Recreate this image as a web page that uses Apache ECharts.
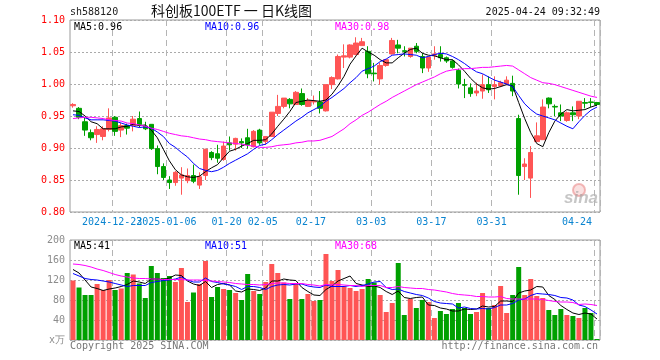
<!DOCTYPE html>
<html><head><meta charset="utf-8">
<script src="https://cdn.jsdelivr.net/npm/echarts@6/dist/echarts.min.js"></script>
<style>html,body{margin:0;padding:0;background:#fff}#c{width:660px;height:360px}</style>
</head><body><div id="c"></div>
<script>
const dates = ['2024-12-12','2024-12-13','2024-12-16','2024-12-17','2024-12-18','2024-12-19','2024-12-20','2024-12-23','2024-12-24','2024-12-25','2024-12-26','2024-12-27','2024-12-30','2024-12-31','2025-01-02','2025-01-03','2025-01-06','2025-01-07','2025-01-08','2025-01-09','2025-01-10','2025-01-13','2025-01-14','2025-01-15','2025-01-16','2025-01-17','2025-01-20','2025-01-21','2025-01-22','2025-01-23','2025-01-24','2025-01-27','2025-02-05','2025-02-06','2025-02-07','2025-02-10','2025-02-11','2025-02-12','2025-02-13','2025-02-14','2025-02-17','2025-02-18','2025-02-19','2025-02-20','2025-02-21','2025-02-24','2025-02-25','2025-02-26','2025-02-27','2025-02-28','2025-03-03','2025-03-04','2025-03-05','2025-03-06','2025-03-07','2025-03-10','2025-03-11','2025-03-12','2025-03-13','2025-03-14','2025-03-17','2025-03-18','2025-03-19','2025-03-20','2025-03-21','2025-03-24','2025-03-25','2025-03-26','2025-03-27','2025-03-28','2025-03-31','2025-04-01','2025-04-02','2025-04-03','2025-04-07','2025-04-08','2025-04-09','2025-04-10','2025-04-11','2025-04-14','2025-04-15','2025-04-16','2025-04-17','2025-04-18','2025-04-21','2025-04-22','2025-04-23','2025-04-24'];

const opens = [0.966,0.962,0.941,0.924,0.921,0.918,0.929,0.948,0.928,0.935,0.935,0.946,0.934,0.937,0.899,0.871,0.850,0.846,0.853,0.849,0.857,0.842,0.857,0.893,0.891,0.882,0.908,0.906,0.910,0.916,0.902,0.928,0.910,0.918,0.954,0.965,0.976,0.968,0.985,0.965,0.972,0.972,0.958,0.999,1.008,1.042,1.042,1.046,1.060,1.051,1.017,1.008,1.029,1.047,1.061,1.052,1.043,1.059,1.043,1.025,1.045,1.046,1.041,1.036,1.021,0.999,0.994,0.986,0.989,0.999,0.996,0.997,1.000,1.001,0.946,0.871,0.853,0.910,0.913,0.978,0.965,0.955,0.943,0.955,0.950,0.971,0.972,0.971];
const closes = [0.968,0.948,0.928,0.916,0.929,0.930,0.947,0.926,0.935,0.931,0.945,0.937,0.930,0.899,0.871,0.854,0.846,0.862,0.858,0.857,0.848,0.855,0.898,0.885,0.884,0.903,0.905,0.915,0.908,0.905,0.926,0.908,0.918,0.956,0.965,0.978,0.969,0.987,0.968,0.974,0.973,0.962,0.999,1.010,1.043,1.044,1.061,1.064,1.066,1.016,1.016,1.029,1.038,1.068,1.056,1.051,1.056,1.051,1.025,1.042,1.047,1.041,1.036,1.026,1.000,0.998,0.985,0.989,0.999,0.991,0.999,1.002,1.006,0.989,0.857,0.875,0.893,0.919,0.964,0.969,0.964,0.950,0.955,0.952,0.973,0.970,0.971,0.968];
const highs = [0.970,0.964,0.948,0.929,0.934,0.934,0.962,0.950,0.939,0.938,0.950,0.957,0.941,0.937,0.904,0.876,0.856,0.864,0.870,0.868,0.874,0.862,0.899,0.895,0.905,0.910,0.918,0.916,0.915,0.930,0.928,0.930,0.918,0.956,0.983,0.978,0.978,0.989,0.993,0.978,0.982,0.989,0.999,1.012,1.046,1.062,1.062,1.073,1.072,1.059,1.033,1.033,1.038,1.072,1.069,1.059,1.056,1.064,1.048,1.042,1.059,1.059,1.043,1.038,1.024,1.008,1.001,1.002,1.015,1.012,1.012,1.005,1.012,1.013,0.952,0.884,0.903,0.940,0.976,0.979,0.968,0.968,0.957,0.965,0.973,0.978,0.978,0.972];
const lows = [0.963,0.945,0.919,0.912,0.908,0.912,0.926,0.919,0.917,0.921,0.926,0.932,0.928,0.897,0.859,0.850,0.836,0.841,0.827,0.845,0.845,0.836,0.850,0.881,0.877,0.880,0.896,0.896,0.900,0.899,0.901,0.905,0.905,0.918,0.950,0.962,0.962,0.968,0.966,0.964,0.968,0.954,0.957,0.992,1.007,1.025,1.040,1.045,1.060,1.009,1.004,0.999,1.027,1.046,1.048,1.043,1.041,1.048,1.017,1.019,1.038,1.035,1.033,1.024,0.993,0.978,0.980,0.981,0.977,0.986,0.976,0.995,0.998,0.981,0.827,0.850,0.822,0.910,0.913,0.962,0.950,0.942,0.941,0.942,0.945,0.962,0.964,0.966];

const ma5 = [0.958,0.957,0.950,0.941,0.938,0.930,0.930,0.930,0.933,0.934,0.937,0.935,0.936,0.928,0.916,0.898,0.880,0.866,0.858,0.855,0.854,0.856,0.863,0.869,0.874,0.885,0.895,0.898,0.903,0.907,0.912,0.912,0.913,0.922,0.934,0.945,0.957,0.971,0.973,0.975,0.974,0.973,0.975,0.984,0.997,1.012,1.031,1.044,1.056,1.050,1.045,1.038,1.033,1.033,1.041,1.048,1.054,1.056,1.048,1.045,1.044,1.041,1.038,1.038,1.030,1.020,1.009,1.000,0.994,0.992,0.993,0.996,0.999,0.997,0.971,0.946,0.924,0.907,0.902,0.924,0.942,0.953,0.960,0.958,0.959,0.960,0.964,0.967];
const ma10 = [0.952,0.951,0.947,0.944,0.944,0.944,0.943,0.942,0.939,0.936,0.934,0.932,0.933,0.931,0.925,0.918,0.907,0.901,0.893,0.886,0.876,0.868,0.865,0.863,0.865,0.870,0.876,0.881,0.886,0.891,0.898,0.904,0.906,0.913,0.921,0.928,0.935,0.942,0.948,0.955,0.960,0.965,0.973,0.979,0.986,0.993,1.002,1.010,1.020,1.024,1.028,1.035,1.039,1.045,1.046,1.047,1.046,1.045,1.041,1.043,1.046,1.048,1.047,1.043,1.038,1.032,1.025,1.019,1.016,1.011,1.006,1.003,1.000,0.996,0.982,0.969,0.960,0.953,0.950,0.947,0.944,0.939,0.934,0.930,0.941,0.951,0.959,0.964];
const ma30 = [0.946,0.947,0.948,0.948,0.947,0.946,0.944,0.943,0.942,0.939,0.938,0.936,0.934,0.931,0.929,0.926,0.923,0.921,0.919,0.918,0.916,0.914,0.913,0.911,0.910,0.909,0.908,0.907,0.906,0.904,0.903,0.901,0.901,0.902,0.904,0.905,0.906,0.908,0.909,0.911,0.911,0.912,0.915,0.918,0.924,0.930,0.938,0.944,0.951,0.956,0.962,0.968,0.973,0.979,0.984,0.989,0.994,0.999,1.003,1.007,1.011,1.016,1.020,1.022,1.023,1.024,1.024,1.025,1.026,1.026,1.027,1.028,1.029,1.028,1.022,1.016,1.010,1.006,1.002,1.001,0.999,0.996,0.993,0.990,0.987,0.984,0.981,0.979];

const volumes = [119,105,90,90,112,100,120,100,103,134,131,113,84,148,134,124,128,116,144,76,95,112,158,86,106,102,100,94,80,132,98,92,116,152,134,115,82,114,82,92,78,80,172,118,140,107,104,98,102,122,115,90,56,74,154,50,82,64,80,76,44,58,52,62,74,64,52,56,94,64,70,108,54,90,146,90,122,88,84,60,50,62,50,48,44,64,54,2];
const vma5 = [141,134,120,106,103,99,102,104,107,111,118,116,113,122,122,121,124,130,129,118,112,109,117,105,111,113,110,98,96,102,101,99,104,118,118,122,120,119,105,97,90,89,101,108,118,123,128,113,110,107,108,105,97,91,98,85,83,85,86,70,69,64,62,58,58,62,61,62,68,66,67,78,78,77,94,98,100,107,106,89,81,69,61,54,51,54,52,42];
const vma10 = [133,128,123,121,120,118,116,113,110,107,109,109,109,115,117,119,120,122,126,120,116,116,124,117,115,112,110,107,101,107,107,105,101,107,110,111,110,112,112,108,106,105,110,107,107,107,109,107,109,112,116,117,105,101,102,97,94,91,89,84,77,74,73,72,64,66,63,62,63,62,65,70,70,73,80,82,89,93,92,91,89,85,84,80,70,67,60,52];
const vma30 = [152,151,149,146,142,139,135,131,128,126,124,123,123,122,122,121,121,121,121,120,120,120,119,118,117,116,115,113,112,111,111,110,111,113,114,114,113,113,113,111,110,108,111,110,111,110,109,109,107,109,109,109,105,105,107,105,104,103,103,101,100,98,96,93,91,90,89,87,87,86,86,87,83,82,82,82,82,82,81,79,77,76,76,75,71,72,71,69];

const tickDates = ['2024-12-23','2025-01-06','2025-01-20','2025-02-05','2025-02-17','2025-03-03','2025-03-17','2025-03-31','2025-04-24'];
const tickTexts = ['2024-12-23','2025-01-06','01-20','02-05','02-17','03-03','03-17','03-31','04-24'];
const priceTicks = [0.80, 0.85, 0.90, 0.95, 1.00, 1.05, 1.10];
const volTicks = [0, 40, 80, 120, 160, 200];

const RED = '#ff5555', GREEN = '#00a000';
const MONO = 'DejaVu Sans Mono';
const tickIdx = new Set(tickDates.map(d => dates.indexOf(d)));
const lastIdx = dates.length - 1;

const chart = echarts.init(document.getElementById('c'), null, {renderer: 'canvas'});

const baseX = (gi, showLabel) => ({
  type: 'category', gridIndex: gi, data: dates, boundaryGap: true,
  axisLine: {show: false}, axisTick: {show: false},
  axisLabel: showLabel ? {
    show: true, interval: 0, color: '#0a84d0', hideOverlap: false,
    fontFamily: MONO, fontSize: 10, margin: 5,
    formatter: (v, i) => {
      const k = tickDates.indexOf(v);
      if (k < 0) return '';
      return i === lastIdx ? '{l|' + tickTexts[k] + '}' : '{n|' + tickTexts[k] + '}';
    },
    rich: {
      n: {fontFamily: MONO, fontSize: 10, color: '#0a84d0', padding: [0, 6, 0, 0]},
      l: {fontFamily: MONO, fontSize: 10, color: '#0a84d0', padding: [0, 40, 0, 0]}
    }
  } : {show: false},
  splitLine: {show: true, interval: (i) => tickIdx.has(i), lineStyle: {color: '#b4b4b4', type: [6, 4], width: 1}}
});

chart.setOption({
  animation: false,
  backgroundColor: '#fff',
  grid: [
    {left: 70, top: 20, width: 530, height: 192, show: true, borderColor: '#9a9a9a', borderWidth: 1, backgroundColor: 'transparent'},
    {left: 70, top: 240, width: 530, height: 100, show: true, borderColor: '#9a9a9a', borderWidth: 1, backgroundColor: 'transparent'}
  ],
  xAxis: [baseX(0, true), baseX(1, false)],
  yAxis: [
    {type: 'value', gridIndex: 0, min: priceTicks[0], max: priceTicks[priceTicks.length - 1], interval: 0.05,
     axisLine: {show: false}, axisTick: {show: false},
     axisLabel: {color: '#ff0000', fontFamily: MONO, fontSize: 10, margin: 5, formatter: v => v.toFixed(2)},
     splitLine: {show: true, lineStyle: {color: '#aaaaaa', type: [2, 2], width: 1}}},
    {type: 'value', gridIndex: 1, min: volTicks[0], max: volTicks[volTicks.length - 1], interval: 40,
     axisLine: {show: false}, axisTick: {show: false},
     axisLabel: {color: '#8c8c8c', fontFamily: MONO, fontSize: 10, margin: 5, formatter: v => v === 0 ? 'x万' : String(v)},
     splitLine: {show: true, lineStyle: {color: '#aaaaaa', type: [2, 2], width: 1}}}
  ],
  series: [
    {type: 'candlestick', xAxisIndex: 0, yAxisIndex: 0, barWidth: 5,
     data: opens.map((o, i) => [o, closes[i], lows[i], highs[i]]),
     itemStyle: {color: RED, color0: GREEN, borderColor: RED, borderColor0: GREEN, borderWidth: 1}},
    {type: 'line', xAxisIndex: 0, yAxisIndex: 0, data: ma5, symbol: 'none', lineStyle: {color: '#000', width: 1}},
    {type: 'line', xAxisIndex: 0, yAxisIndex: 0, data: ma10, symbol: 'none', lineStyle: {color: '#0000ff', width: 1}},
    {type: 'line', xAxisIndex: 0, yAxisIndex: 0, data: ma30, symbol: 'none', lineStyle: {color: '#ff00ff', width: 1}},
    {type: 'bar', xAxisIndex: 1, yAxisIndex: 1, barWidth: 5,
     data: volumes.map((v, i) => ({value: v, itemStyle: {color: closes[i] >= opens[i] ? RED : GREEN}}))},
    {type: 'line', xAxisIndex: 1, yAxisIndex: 1, data: vma5, symbol: 'none', lineStyle: {color: '#000', width: 1}},
    {type: 'line', xAxisIndex: 1, yAxisIndex: 1, data: vma10, symbol: 'none', lineStyle: {color: '#0000ff', width: 1}},
    {type: 'line', xAxisIndex: 1, yAxisIndex: 1, data: vma30, symbol: 'none', lineStyle: {color: '#ff00ff', width: 1}}
  ],
  graphic: [
    {type: 'text', left: 70, top: 7, style: {text: 'sh588120', fill: '#222', font: '10px "DejaVu Sans Mono"'}},
    {type: 'text', left: 151, top: 4, style: {text: '科创板100ETF 一 日K线图', fill: '#111', font: '14px "Noto Sans CJK SC"'}},
    {type: 'text', right: 60, top: 7, style: {text: '2025-04-24 09:32:49', fill: '#111', font: '10px "DejaVu Sans Mono"'}},
    {type: 'text', left: 74, top: 22, style: {text: 'MA5:0.96', fill: '#000', font: '10px "DejaVu Sans Mono"'}},
    {type: 'text', left: 205, top: 22, style: {text: 'MA10:0.96', fill: '#0000ff', font: '10px "DejaVu Sans Mono"'}},
    {type: 'text', left: 335, top: 22, style: {text: 'MA30:0.98', fill: '#ff00ff', font: '10px "DejaVu Sans Mono"'}},
    {type: 'text', left: 74, top: 241, style: {text: 'MA5:41', fill: '#000', font: '10px "DejaVu Sans Mono"'}},
    {type: 'text', left: 205, top: 241, style: {text: 'MA10:51', fill: '#0000ff', font: '10px "DejaVu Sans Mono"'}},
    {type: 'text', left: 335, top: 241, style: {text: 'MA30:68', fill: '#ff00ff', font: '10px "DejaVu Sans Mono"'}},
    {type: 'text', left: 70, top: 341, style: {text: 'Copyright 2025 SINA.COM', fill: '#777', font: '10px "DejaVu Sans Mono"'}},
    {type: 'text', right: 62, top: 341, style: {text: 'http://finance.sina.com.cn', fill: '#777', font: '10px "DejaVu Sans Mono"'}},
    {type: 'circle', shape: {cx: 579, cy: 190, r: 6}, style: {fill: 'rgba(240,170,170,0.35)', stroke: 'rgba(235,140,140,0.6)', lineWidth: 2}},
    {type: 'text', left: 564, top: 190, style: {text: 'sina', fill: 'rgba(160,160,160,0.6)', font: 'italic bold 17px "Liberation Sans"'}}
  ]
});
</script></body></html>
